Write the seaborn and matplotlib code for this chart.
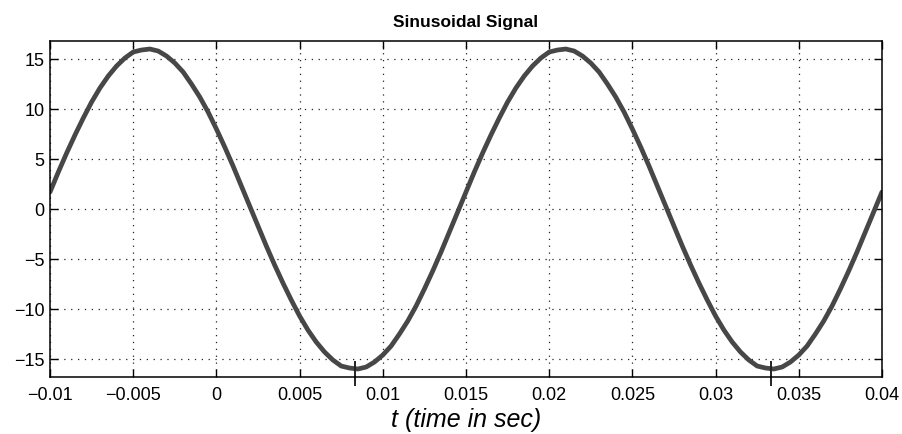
import matplotlib
matplotlib.use("Agg")
import matplotlib.pyplot as plt
import numpy as np
import pandas as pd
import seaborn as sns

# 信号数据 (从图中读取, 每 0.0005 s 一个点)
t_start = -0.01
t_step = 0.0005
half_up = [1.7, 3.7, 5.6, 7.4, 9.1, 10.7, 12.1, 13.3, 14.3, 15.1,
           15.7, 15.9, 16.0, 15.8, 15.3, 14.6, 13.7, 12.5, 11.2, 9.7,
           8.0, 6.2, 4.3, 2.3, 0.3]
half_down = [-1.7, -3.7, -5.6, -7.4, -9.1, -10.7, -12.1, -13.3, -14.3, -15.1,
             -15.7, -15.9, -16.0, -15.8, -15.3, -14.6, -13.7, -12.5, -11.2, -9.7,
             -8.0, -6.2, -4.3, -2.3, -0.3]
signal = half_up + half_down + half_up + half_down + [1.7]
time = [round(t_start + i * t_step, 4) for i in range(len(signal))]

# 坐标轴刻度
x_ticks = [-0.01, -0.005, 0, 0.005, 0.01, 0.015, 0.02, 0.025, 0.03, 0.035, 0.04]
x_labels = ["\u22120.01", "\u22120.005", "0", "0.005", "0.01", "0.015",
            "0.02", "0.025", "0.03", "0.035", "0.04"]
y_ticks = [-15, -10, -5, 0, 5, 10, 15]
y_labels = ["\u221215", "\u221210", "\u22125", "0", "5", "10", "15"]

# 波谷处的手画标记
mark_t = [0.00833, 0.03333]

df = pd.DataFrame({"t": time, "x": signal})

sns.set_theme(style="white")
plt.rcParams["font.family"] = ["Liberation Sans", "DejaVu Sans"]
plt.rcParams["text.color"] = "black"
plt.rcParams["axes.labelcolor"] = "black"

fig = plt.figure(figsize=(9.03, 4.34), dpi=100)
ax = fig.add_axes([0.0554, 0.1313, 0.9213, 0.7742])

sns.lineplot(data=df, x="t", y="x", ax=ax, color="#474747", linewidth=3.4)

ax.set_xlim(-0.01, 0.04)
ax.set_ylim(-16.8, 16.8)
ax.set_xticks(x_ticks)
ax.set_xticklabels(x_labels)
ax.set_yticks(y_ticks)
ax.set_yticklabels(y_labels)

ax.grid(True, color="#222222", linestyle=(0, (1, 4.5)), linewidth=0.9)
for s in ax.spines.values():
    s.set_color("black")
    s.set_linewidth(1.1)
ax.tick_params(direction="in", length=6, width=1, color="black",
               top=True, right=True, bottom=True, left=True,
               labelsize=13, labelcolor="black")
ax.tick_params(axis="x", pad=7)
ax.tick_params(axis="y", pad=4)

ax.vlines(mark_t, -15.2, -17.7, color="#222222", linewidth=1.4, clip_on=False)

ax.set_title("Sinusoidal Signal", fontsize=12.5, fontweight="bold", pad=10,
             color="black")
ax.set_xlabel("t (time in sec)", fontsize=18, fontstyle="italic", labelpad=3)
ax.set_ylabel("")

fig.savefig("out.png", dpi=100, facecolor="white")
